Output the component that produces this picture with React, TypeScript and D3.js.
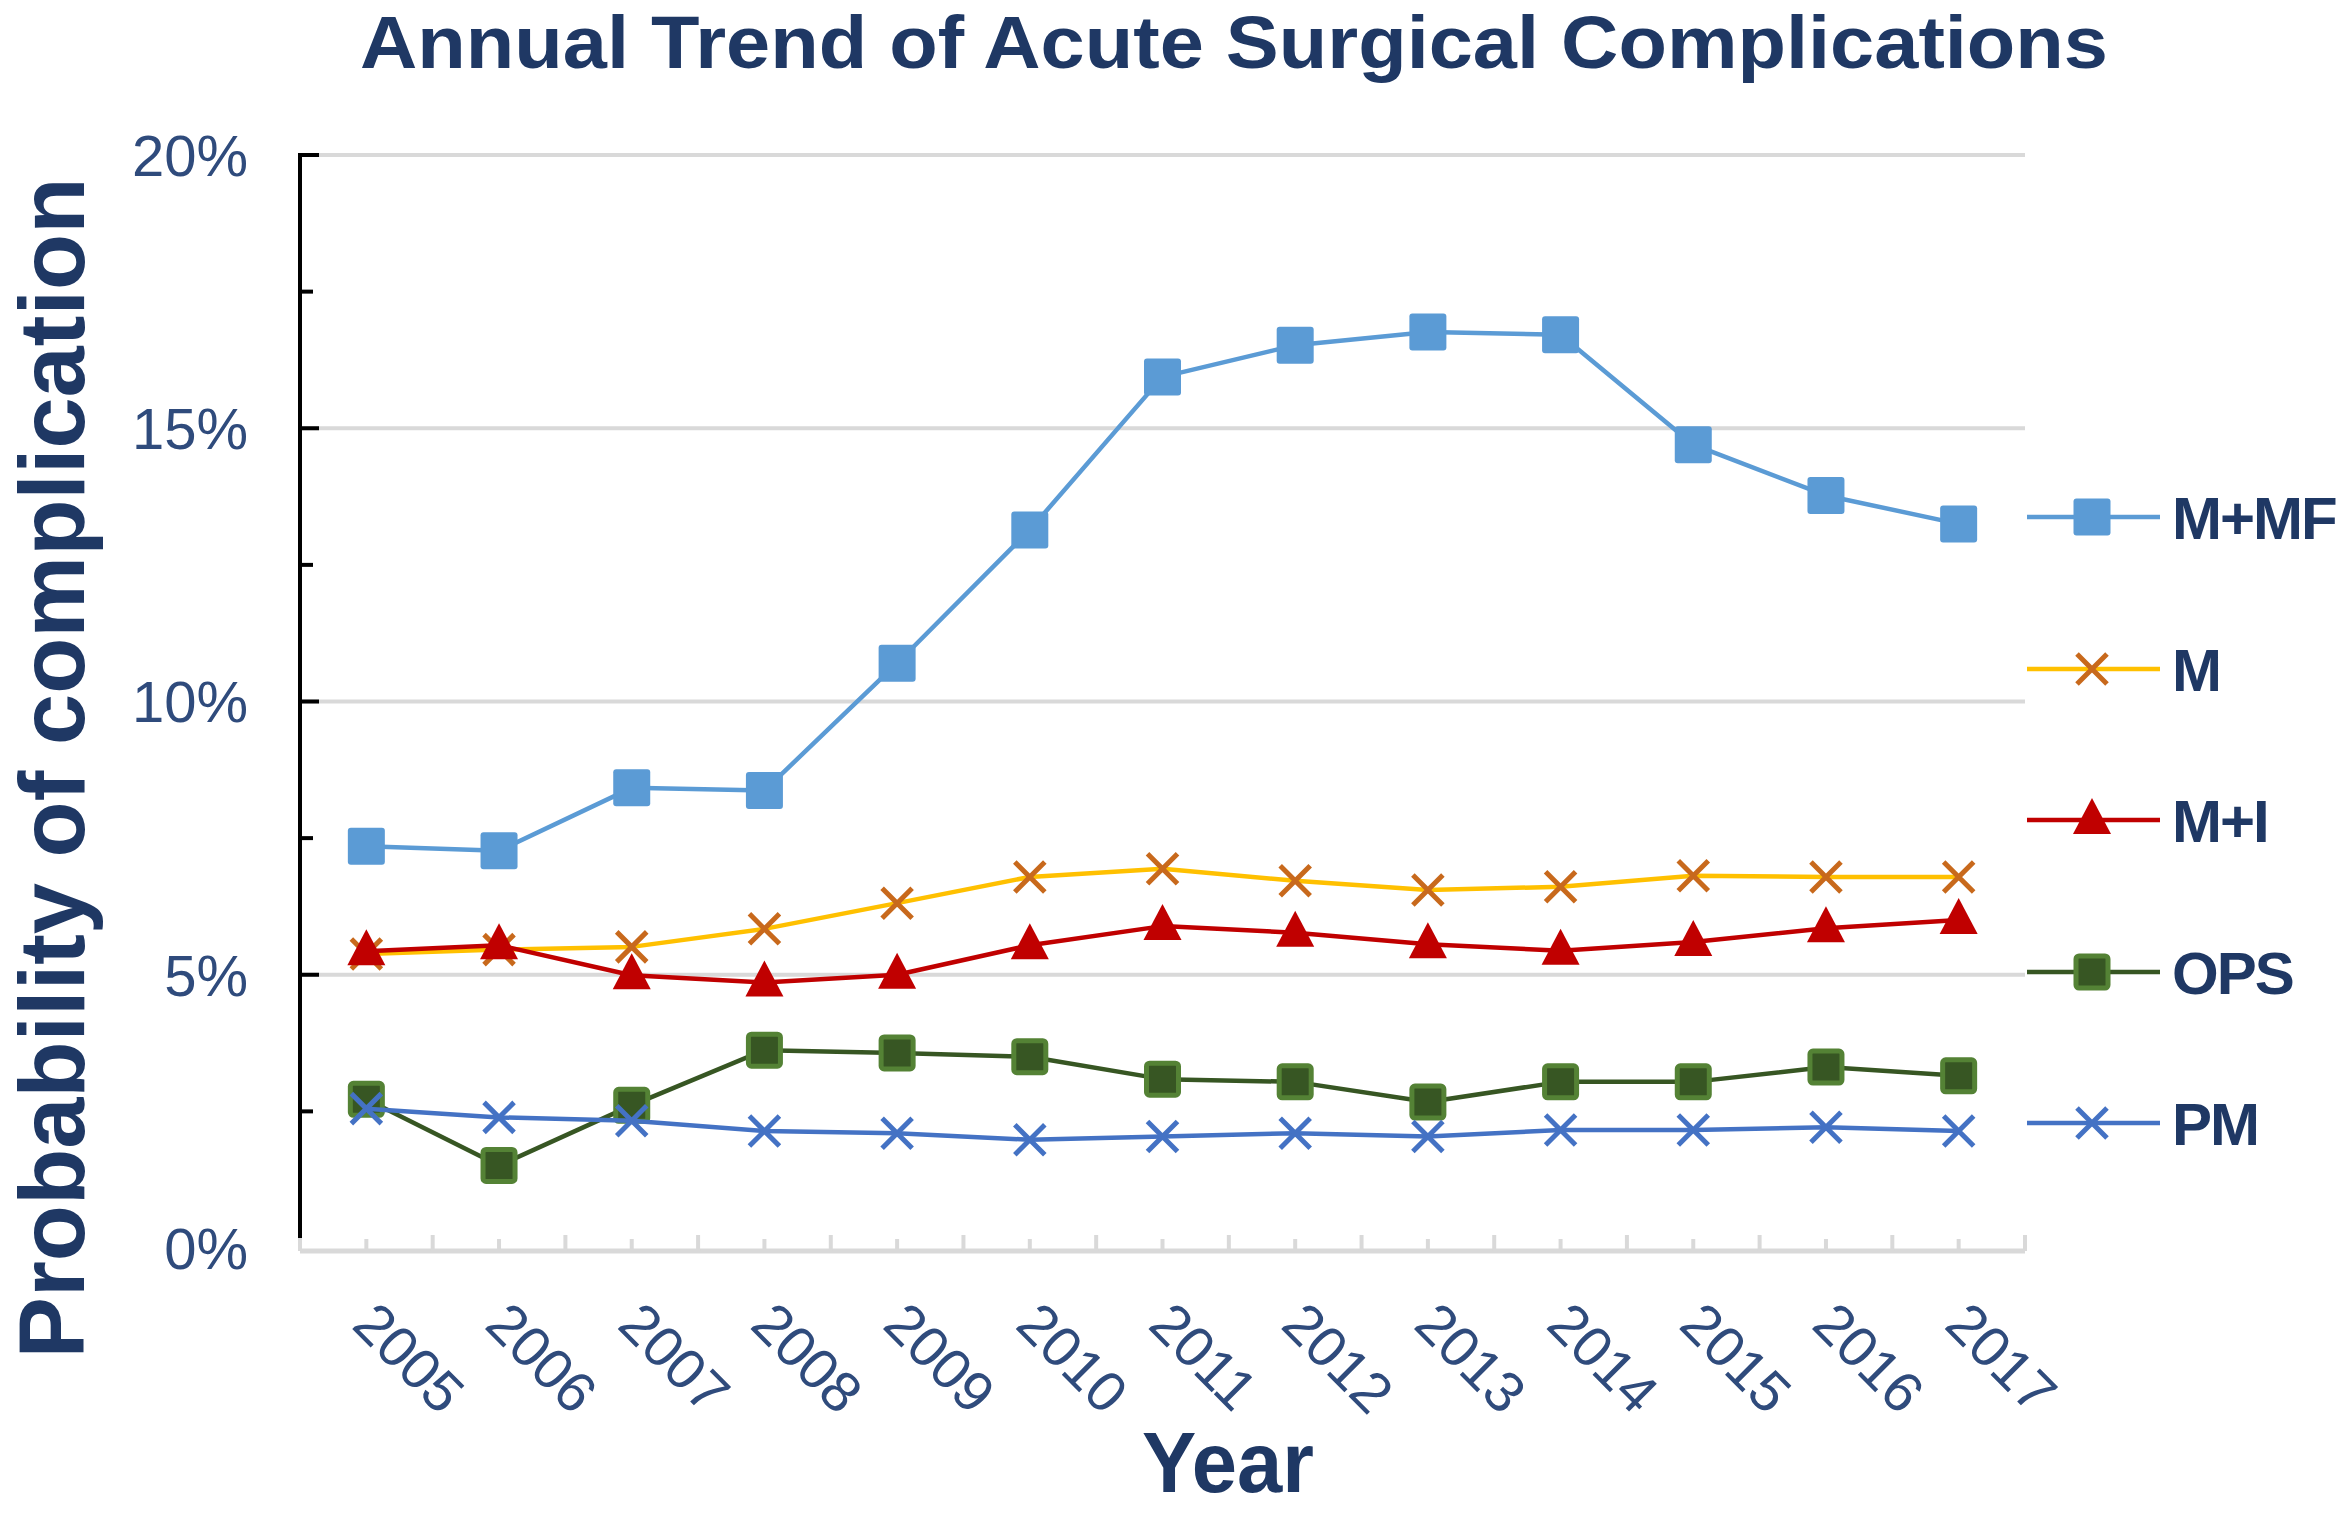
import React, { useEffect, useRef } from 'react';
import * as d3 from 'd3';

const years = ['2005', '2006', '2007', '2008', '2009', '2010', '2011', '2012', '2013', '2014', '2015', '2016', '2017'];
const yTicks = [0, 5, 10, 15, 20];

const mmf = [7.35, 7.27, 8.42, 8.37, 10.7, 13.14, 15.94, 16.52, 16.76, 16.71, 14.7, 13.77, 13.25];
const m = [5.38, 5.46, 5.51, 5.84, 6.31, 6.79, 6.94, 6.72, 6.55, 6.61, 6.81, 6.79, 6.79];
const mi = [5.43, 5.54, 4.99, 4.86, 5.0, 5.54, 5.89, 5.77, 5.56, 5.44, 5.6, 5.85, 6.0];
const ops = [2.72, 1.51, 2.61, 3.62, 3.57, 3.5, 3.09, 3.04, 2.67, 3.04, 3.04, 3.31, 3.15];
const pm = [2.55, 2.39, 2.33, 2.14, 2.1, 1.98, 2.04, 2.1, 2.04, 2.16, 2.16, 2.21, 2.14];

const seriesNames = ['M+MF', 'M', 'M+I', 'OPS', 'PM'];
const seriesValues = [mmf, m, mi, ops, pm];

type Style = { line: string; marker: 'square' | 'x' | 'triangle'; fill: string; stroke: string };
const styles: Style[] = [
	{ line: '#5b9bd5', marker: 'square', fill: '#5b9bd5', stroke: 'none' },
	{ line: '#ffc000', marker: 'x', fill: 'none', stroke: '#c8691c' },
	{ line: '#c00000', marker: 'triangle', fill: '#c00000', stroke: 'none' },
	{ line: '#375623', marker: 'square', fill: '#375623', stroke: '#548235' },
	{ line: '#4472c4', marker: 'x', fill: 'none', stroke: '#4472c4' }
];

const NAVY = '#1f3864';
const TICK = '#2f4b7c';
const FONT = '"Liberation Sans", Arial, sans-serif';

const App: React.FC = () => {
	const svgRef = useRef<SVGSVGElement>(null);

	useEffect(() => {
		if (svgRef.current == null) return;
		const width = 2352;
		const height = 1524;
		const left = 300, right = 2025, top = 155, bottom = 1248;

		const svg = d3.select(svgRef.current)
			.attr('width', width)
			.attr('height', height);
		svg.selectAll('*').remove();

		const x = d3.scaleBand().domain(years).range([left, right]);
		const y = d3.scaleLinear().domain([0, 20]).range([bottom, top]);
		const cx = (yr: string) => (x(yr) as number) + x.bandwidth() / 2;

		// gridlines
		svg.append('g').selectAll('line')
			.data(yTicks.filter(t => t > 0))
			.join('line')
			.attr('x1', left).attr('x2', right)
			.attr('y1', d => y(d)).attr('y2', d => y(d))
			.attr('stroke', '#d9d9d9').attr('stroke-width', 4);

		// x axis (grey) with ticks at centres and boundaries
		svg.append('line')
			.attr('x1', left).attr('x2', right)
			.attr('y1', bottom + 3).attr('y2', bottom + 3)
			.attr('stroke', '#d9d9d9').attr('stroke-width', 5);
		const halfTicks = d3.range(0, years.length * 2 + 1);
		svg.append('g').selectAll('line')
			.data(halfTicks)
			.join('line')
			.attr('x1', d => left + d * x.bandwidth() / 2)
			.attr('x2', d => left + d * x.bandwidth() / 2)
			.attr('y1', bottom + 3)
			.attr('y2', d => bottom + 3 - (d % 2 === 0 ? 16 : 12))
			.attr('stroke', '#d9d9d9').attr('stroke-width', 4);

		// y axis (black) with ticks every 2.5%
		svg.append('line')
			.attr('x1', left).attr('x2', left)
			.attr('y1', top - 2).attr('y2', bottom - 10)
			.attr('stroke', '#000').attr('stroke-width', 4);
		svg.append('g').selectAll('line')
			.data(d3.range(2.5, 20.01, 2.5))
			.join('line')
			.attr('x1', left).attr('x2', d => left + (d % 5 === 0 ? 19 : 13))
			.attr('y1', d => y(d)).attr('y2', d => y(d))
			.attr('stroke', '#000').attr('stroke-width', 4);

		// y tick labels
		svg.append('g').selectAll('text')
			.data(yTicks)
			.join('text')
			.attr('x', 248)
			.attr('y', d => y(d))
			.attr('dy', '0.36em')
			.attr('text-anchor', 'end')
			.style('font-family', FONT)
			.style('font-size', '58px')
			.style('fill', TICK)
			.text(d => `${d}%`);

		// x tick labels, rotated 45°
		svg.append('g').selectAll('text')
			.data(years)
			.join('text')
			.attr('transform', d => `translate(${cx(d) - 16},${1327}) rotate(45)`)
			.style('font-family', FONT)
			.style('font-size', '57px')
			.style('fill', TICK)
			.text(d => d);

		// series
		const drawMarker = (g: any, s: Style, px: number, py: number) => {
			if (s.marker === 'square') {
				const sz = s.stroke === 'none' ? 37 : 32;
				g.append('rect')
					.attr('x', px - sz / 2).attr('y', py - sz / 2)
					.attr('width', sz).attr('height', sz)
					.attr('rx', 3)
					.attr('fill', s.fill)
					.attr('stroke', s.stroke)
					.attr('stroke-width', s.stroke === 'none' ? 0 : 5);
			} else if (s.marker === 'triangle') {
				g.append('path')
					.attr('d', `M${px},${py - 22}L${px + 19},${py + 14}L${px - 19},${py + 14}Z`)
					.attr('fill', s.fill);
			} else {
				const r = 15;
				g.append('path')
					.attr('d', `M${px - r},${py - r}L${px + r},${py + r}M${px - r},${py + r}L${px + r},${py - r}`)
					.attr('stroke', s.stroke)
					.attr('stroke-width', 5)
					.attr('fill', 'none');
			}
		};

		const lineGen = d3.line<number>()
			.x((_, i) => cx(years[i]))
			.y(d => y(d));

		seriesValues.forEach((vals, si) => {
			const s = styles[si];
			const g = svg.append('g');
			g.append('path')
				.attr('d', lineGen(vals))
				.attr('fill', 'none')
				.attr('stroke', s.line)
				.attr('stroke-width', 4.5)
				.attr('stroke-linejoin', 'round');
			vals.forEach((v, i) => drawMarker(g, s, cx(years[i]), y(v)));
		});

		// legend
		const legendY = [517, 669, 820, 972, 1123];
		seriesNames.forEach((name, si) => {
			const s = styles[si];
			const g = svg.append('g');
			const ly = legendY[si];
			g.append('line')
				.attr('x1', 2027).attr('x2', 2160)
				.attr('y1', ly).attr('y2', ly)
				.attr('stroke', s.line).attr('stroke-width', 4.5);
			drawMarker(g, s, 2092, ly);
			g.append('text')
				.attr('x', 2172)
				.attr('y', ly)
				.attr('dy', '0.36em')
				.style('font-family', FONT)
				.style('font-weight', 'bold')
				.style('font-size', '60px')
				.style('letter-spacing', '-2px')
				.style('fill', NAVY)
				.text(name);
		});

		// title
		svg.append('text')
			.attr('x', 1234)
			.attr('y', 68)
			.attr('text-anchor', 'middle')
			.attr('textLength', 1748)
			.attr('lengthAdjust', 'spacingAndGlyphs')
			.style('font-family', FONT)
			.style('font-weight', 'bold')
			.style('font-size', '74px')
			.style('fill', NAVY)
			.text('Annual  Trend of Acute  Surgical Complications');

		// axis titles
		svg.append('text')
			.attr('transform', `translate(84,768) rotate(-90)`)
			.attr('text-anchor', 'middle')
			.style('font-family', FONT)
			.style('font-weight', 'bold')
			.style('font-size', '92px')
			.style('fill', NAVY)
			.text('Probability of complication');

		svg.append('text')
			.attr('x', 1228)
			.attr('y', 1492)
			.attr('text-anchor', 'middle')
			.attr('textLength', 172)
			.attr('lengthAdjust', 'spacingAndGlyphs')
			.style('font-family', FONT)
			.style('font-weight', 'bold')
			.style('font-size', '86px')
			.style('fill', NAVY)
			.text('Year');
	}, []);

	return (
		<div style={{ position: 'absolute', left: 0, top: 0, background: '#fff' }}>
			<svg ref={svgRef} style={{ display: 'block' }}></svg>
		</div>
	);
};

export default App;
